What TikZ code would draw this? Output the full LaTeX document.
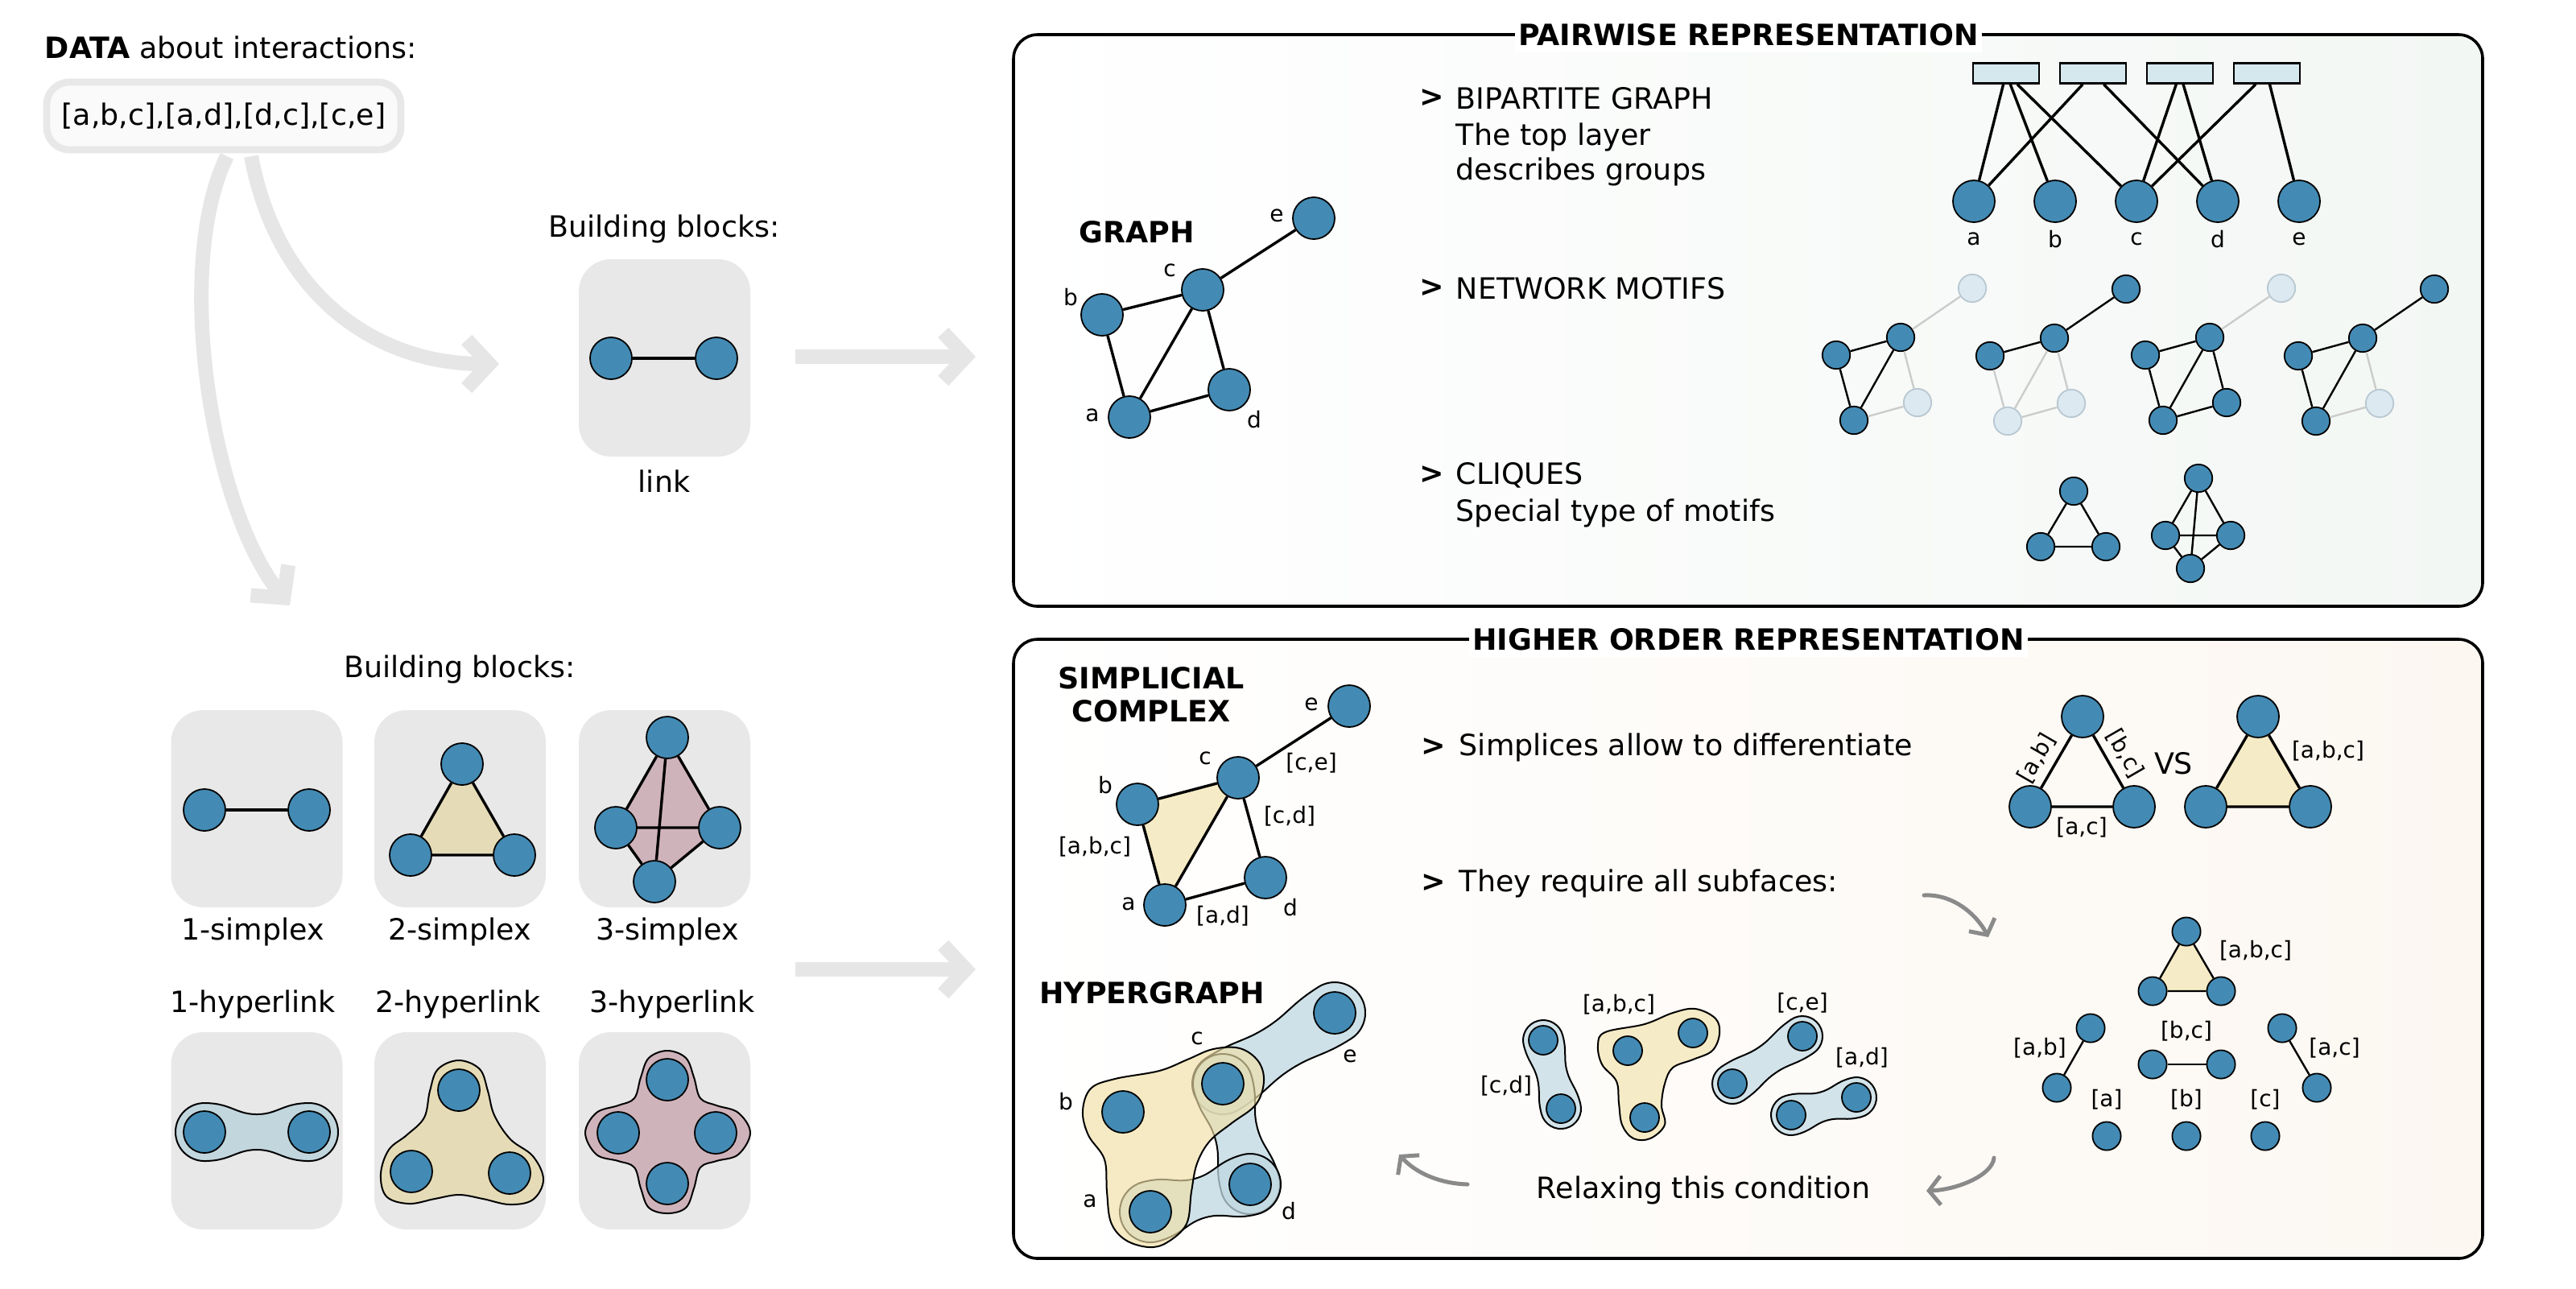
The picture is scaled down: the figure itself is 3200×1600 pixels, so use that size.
\documentclass[tikz,border=0pt]{standalone}
\usepackage{fontspec}
\setmainfont{DejaVu Sans}
\usetikzlibrary{calc,arrows.meta}
\pgfdeclarelayer{back}
\pgfdeclarelayer{mid}
\pgfsetlayers{back,mid,main}
\definecolor{nblue}{RGB}{67,139,180}
\definecolor{lnode}{RGB}{220,233,240}
\definecolor{lborder}{RGB}{185,200,210}
\definecolor{ledge}{RGB}{204,204,204}
\definecolor{gbox}{RGB}{232,232,232}
\definecolor{garrow}{RGB}{230,230,230}
\definecolor{datafill}{RGB}{250,250,250}
\definecolor{beige}{RGB}{245,235,198}
\definecolor{beigeT}{RGB}{240,224,166}
\definecolor{beigebox}{RGB}{229,220,183}
\definecolor{mauve}{RGB}{207,179,187}
\definecolor{bluebox}{RGB}{194,214,222}
\definecolor{bblobT}{RGB}{192,216,226}
\definecolor{bblob}{RGB}{210,227,234}
\definecolor{rectblue}{RGB}{213,232,238}
\definecolor{pwright}{RGB}{243,247,244}
\definecolor{horight}{RGB}{252,247,241}
\definecolor{carrow}{RGB}{138,138,138}
\newcommand{\msz}{\fontsize{9.1}{11}\selectfont}
\newcommand{\lsz}{\fontsize{7}{8.4}\selectfont}
\newcommand{\hlink}[5]{%
\path[#1] let \p1=(#2), \p2=(#3),
  \n1={atan2(\y2-\y1,\x2-\x1)},
  \n2={veclen(\x2-\x1,\y2-\y1)}
 in ($(#2)+({\n1+90}:{#4*0.25pt})$)
 .. controls +({\n1}:{0.25*\n2*1pt}) and +({\n1+180}:{0.2*\n2*1pt}) .. ($(#2)!0.5!(#3)+({\n1+90}:{#5*0.25pt})$)
 .. controls +({\n1}:{0.2*\n2*1pt}) and +({\n1+180}:{0.25*\n2*1pt}) .. ($(#3)+({\n1+90}:{#4*0.25pt})$)
 arc[start angle={\n1+90}, end angle={\n1-90}, radius={#4*0.25pt}]
 .. controls +({\n1+180}:{0.25*\n2*1pt}) and +({\n1}:{0.2*\n2*1pt}) .. ($(#2)!0.5!(#3)+({\n1-90}:{#5*0.25pt})$)
 .. controls +({\n1+180}:{0.2*\n2*1pt}) and +({\n1}:{0.25*\n2*1pt}) .. ($(#2)+({\n1-90}:{#4*0.25pt})$)
 arc[start angle={\n1-90}, end angle={\n1-270}, radius={#4*0.25pt}] -- cycle;}
\begin{document}
\begin{tikzpicture}[x=0.25pt, y=-0.25pt,
 txt/.style={font=\msz, inner sep=0pt},
 btxt/.style={font=\msz\bfseries, inner sep=0pt},
 lab/.style={font=\lsz, inner sep=0pt},
 nd/.style={circle, draw=black, line width=0.45pt, fill=nblue, minimum size=13pt, inner sep=0pt},
 snd/.style={nd, minimum size=8.6pt},
 mnd/.style={nd, minimum size=9pt},
 lnd/.style={snd, fill=lnode, draw=lborder},
 ed/.style={line width=0.85pt},
 ted/.style={line width=0.6pt},
 led/.style={line width=0.6pt, draw=ledge},
 gbx/.style={fill=gbox, rounded corners=10pt, minimum width=53.25pt, minimum height=61.25pt, inner sep=0pt},
 bigarrow/.style={draw=garrow, line width=4.5pt, -{Straight Barb[length=7pt,width=15pt]}},
 carr/.style={draw=carrow, line width=1.25pt, line cap=round, -{Straight Barb[length=3.6pt,width=9pt]}},
 panel/.style={line width=0.9pt, rounded corners=7.5pt},
 ptitle/.style={font=\msz\bfseries, fill=white, inner xsep=1pt, inner ysep=2pt},
 blob/.style={draw=black, line width=0.5pt},
 hbblue/.style={blob, fill=bblobT, fill opacity=0.75},
 hbbeige/.style={blob, fill=beigeT, fill opacity=0.65}
]
\useasboundingbox (0,0) rectangle (3200,1600);

% ================= LEFT COLUMN =================
\node[txt, anchor=west] (datalab) at (55,59) {\textbf{DATA} about interactions:};
\node[draw=gbox, line width=2.2pt, fill=datafill, rounded corners=7pt, minimum width=110pt, minimum height=21pt, font=\msz, inner sep=0pt] (data) at (278,144) {[a,b,c],[a,d],[d,c],[c,e]};

\node[txt] (bbtoplab) at (825,284) {Building blocks:};
\begin{pgfonlayer}{back}
\node[gbx] (linkbox) at (825.5,444.5) {};
\node[gbx] (bx1) at (319,1004.5) {};
\node[gbx] (bx2) at (571.5,1004.5) {};
\node[gbx] (bx3) at (825.5,1004.5) {};
\node[gbx] (bx4) at (319,1404.5) {};
\node[gbx] (bx5) at (571.5,1404.5) {};
\node[gbx] (bx6) at (825.5,1404.5) {};
\coordinate (aAs) at (312,194);
\coordinate (aAe) at (620,452);
\draw[bigarrow] (aAs) .. controls (345,370) and (470,452) .. (aAe);
\coordinate (aBs) at (282,194);
\coordinate (aBe) at (360,752);
\draw[bigarrow] (aBs) .. controls (215,330) and (262,630) .. (aBe);
\coordinate (hAs) at (988,443);
\coordinate (hAe) at (1212,443);
\draw[bigarrow] (hAs) -- (hAe);
\coordinate (hBs) at (988,1204);
\coordinate (hBe) at (1212,1204);
\draw[bigarrow] (hBs) -- (hBe);
\end{pgfonlayer}
\node[nd] (l1) at (759,445) {};
\node[nd] (l2) at (890,445) {};
\draw[ed] (l1) -- (l2);
\node[txt] (linklab) at (825,598) {link};

\node[txt] (bblab) at (571,831) {Building blocks:};
\node[txt] (lab1s) at (314,1157) {1-simplex};
\node[txt] (lab2s) at (571,1157) {2-simplex};
\node[txt] (lab3s) at (829,1157) {3-simplex};
\node[txt] (lab1h) at (314,1247) {1-hyperlink};
\node[txt] (lab2h) at (569,1247) {2-hyperlink};
\node[txt] (lab3h) at (835,1247) {3-hyperlink};

% 1-simplex
\node[nd] (s1a) at (254,1006) {};
\node[nd] (s1b) at (384,1006) {};
\draw[ed] (s1a) -- (s1b);
% 2-simplex
\node[nd] (s2t) at (574,949) {};
\node[nd] (s2l) at (510,1062) {};
\node[nd] (s2r) at (639,1062) {};
\begin{pgfonlayer}{mid}
\fill[beigebox] (s2t.center) -- (s2l.center) -- (s2r.center) -- cycle;
\end{pgfonlayer}
\draw[ed] (s2t) -- (s2l) (s2t) -- (s2r) (s2l) -- (s2r);
% 3-simplex
\node[nd] (s3t) at (829,916) {};
\node[nd] (s3l) at (765,1028) {};
\node[nd] (s3r) at (894,1028) {};
\node[nd] (s3b) at (813,1095) {};
\begin{pgfonlayer}{mid}
\fill[mauve] (s3t.center) -- (s3r.center) -- (s3b.center) -- (s3l.center) -- cycle;
\end{pgfonlayer}
\draw[ed] (s3t) -- (s3l) (s3t) -- (s3r) (s3l) -- (s3b) (s3r) -- (s3b) (s3l) -- (s3r) (s3t) -- (s3b);
% 1-hyperlink
\node[nd] (h1a) at (254,1406) {};
\node[nd] (h1b) at (384,1406) {};
\begin{pgfonlayer}{mid}
\hlink{blob, fill=bluebox}{h1a}{h1b}{36}{22}
\end{pgfonlayer}
% 2-hyperlink
\node[nd] (h2t) at (570,1354) {};
\node[nd] (h2l) at (511,1455) {};
\node[nd] (h2r) at (633,1457) {};
\begin{pgfonlayer}{mid}
\draw[blob, fill=beigebox] plot[smooth cycle, tension=0.6] coordinates {(570,1317) (596,1328) (606,1355) (614,1385) (634,1415) (662,1436) (675,1465) (662,1490) (633,1496) (600,1489) (570,1484) (540,1489) (508,1495) (480,1486) (473,1458) (483,1428) (505,1410) (527,1388) (534,1355) (544,1328)};
\end{pgfonlayer}
% 3-hyperlink
\node[nd] (h3t) at (829,1341) {};
\node[nd] (h3l) at (768,1407) {};
\node[nd] (h3r) at (889,1407) {};
\node[nd] (h3b) at (829,1470) {};
\begin{pgfonlayer}{mid}
\draw[blob, fill=mauve] plot[smooth cycle, tension=0.6] coordinates {(829,1305) (852,1314) (862,1338) (870,1364) (890,1373) (917,1382) (932,1407) (917,1434) (890,1442) (870,1450) (862,1476) (852,1500) (829,1507) (806,1500) (796,1476) (788,1450) (768,1442) (741,1434) (727,1407) (741,1382) (768,1373) (788,1364) (796,1338) (806,1314)};
\end{pgfonlayer}

% ================= PANELS =================
\begin{pgfonlayer}{back}
\draw[panel, left color=white, right color=pwright] (1259,43) rectangle (3084,753);
\draw[panel, left color=white, right color=horight] (1259,794) rectangle (3084,1563);
\end{pgfonlayer}
\node[ptitle] (pwtitle) at (2172,43) {PAIRWISE REPRESENTATION};
\node[ptitle] (hotitle) at (2172,794) {HIGHER ORDER REPRESENTATION};

% graph
\node[btxt] (graphlab) at (1412,288) {GRAPH};
\node[nd] (ge) at (1632,271) {};
\node[nd] (gc) at (1494,360) {};
\node[nd] (gb) at (1369,391) {};
\node[nd] (gd) at (1527,484) {};
\node[nd] (ga) at (1403,518) {};
\draw[ed] (gb) -- (gc) (gc) -- (ge) (ga) -- (gb) (ga) -- (gc) (gc) -- (gd) (ga) -- (gd);
\node[lab] (gel) at (1586,268) {e};
\node[lab] (gcl) at (1453,336) {c};
\node[lab] (gbl) at (1330,369) {b};
\node[lab] (gal) at (1357,516) {a};
\node[lab] (gdl) at (1558,521) {d};

% texts
\node[btxt] (gt1) at (1779,122) {>};
\node[txt, anchor=west] (t1) at (1808,122) {BIPARTITE GRAPH};
\node[txt, anchor=west] (t2) at (1808,170) {The top layer};
\node[txt, anchor=west] (t3) at (1808,213) {describes groups};
\node[btxt] (gt2) at (1779,358) {>};
\node[txt, anchor=west] (t4) at (1808,358) {NETWORK MOTIFS};
\node[btxt] (gt3) at (1779,590) {>};
\node[txt, anchor=west] (t5) at (1808,590) {CLIQUES};
\node[txt, anchor=west] (t6) at (1808,637) {Special type of motifs};

% bipartite
\foreach \i/\x in {1/2492,2/2600,3/2708,4/2816}
  \node[draw=black, line width=0.6pt, fill=rectblue, minimum width=20.5pt, minimum height=6.25pt, inner sep=0pt] (g\i) at (\x,91) {};
\foreach \n/\x in {a/2452,b/2553,c/2654,d/2755,e/2856}{
  \node[nd] (b\n) at (\x,250) {};
  \node[lab] (bl\n) at (\x,297) {\n};
}
\draw[ed] (g1) -- (ba) (g1) -- (bb) (g1) -- (bc) (g2) -- (ba) (g2) -- (bd) (g3) -- (bc) (g3) -- (bd) (g4) -- (bc) (g4) -- (be);

% motifs
\node[lnd] (m1e) at (2450,358) {};
\node[snd] (m1c) at (2361,419) {};
\node[snd] (m1b) at (2281,441) {};
\node[lnd] (m1d) at (2382,500) {};
\node[snd] (m1a) at (2303,522) {};
\draw[led] (m1c) -- (m1e) (m1c) -- (m1d) (m1a) -- (m1d);
\draw[ted] (m1b) -- (m1c) (m1c) -- (m1a) (m1a) -- (m1b);

\node[snd] (m2e) at (2641,359) {};
\node[snd] (m2c) at (2552,420) {};
\node[snd] (m2b) at (2472,442) {};
\node[lnd] (m2d) at (2573,501) {};
\node[lnd] (m2a) at (2494,523) {};
\draw[led] (m2a) -- (m2b) (m2a) -- (m2c) (m2c) -- (m2d) (m2a) -- (m2d);
\draw[ted] (m2c) -- (m2e) (m2b) -- (m2c);

\node[lnd] (m3e) at (2834,358) {};
\node[snd] (m3c) at (2745,419) {};
\node[snd] (m3b) at (2665,441) {};
\node[snd] (m3d) at (2766,500) {};
\node[snd] (m3a) at (2687,522) {};
\draw[led] (m3c) -- (m3e);
\draw[ted] (m3b) -- (m3c) (m3a) -- (m3b) (m3a) -- (m3c) (m3c) -- (m3d) (m3a) -- (m3d);

\node[snd] (m4e) at (3024,359) {};
\node[snd] (m4c) at (2935,420) {};
\node[snd] (m4b) at (2855,442) {};
\node[lnd] (m4d) at (2956,501) {};
\node[snd] (m4a) at (2877,523) {};
\draw[led] (m4c) -- (m4d) (m4a) -- (m4d);
\draw[ted] (m4c) -- (m4e) (m4b) -- (m4c) (m4a) -- (m4b) (m4a) -- (m4c);

% cliques
\node[snd] (k1t) at (2576,610) {};
\node[snd] (k1l) at (2535,679) {};
\node[snd] (k1r) at (2616,679) {};
\draw[ted] (k1t) -- (k1l) (k1t) -- (k1r) (k1l) -- (k1r);
\node[snd] (k2t) at (2731,594) {};
\node[snd] (k2l) at (2690,665) {};
\node[snd] (k2r) at (2771,665) {};
\node[snd] (k2b) at (2721,706) {};
\draw[ted] (k2t) -- (k2l) (k2t) -- (k2r) (k2l) -- (k2r) (k2l) -- (k2b) (k2r) -- (k2b) (k2t) -- (k2b);

% ================= HIGHER ORDER PANEL =================
\node[btxt] (simlab1) at (1430,842) {SIMPLICIAL};
\node[btxt] (simlab2) at (1430,883) {COMPLEX};
\node[nd] (se) at (1676,877) {};
\node[nd] (sc) at (1538,966) {};
\node[nd] (sb) at (1413,999) {};
\node[nd] (sd) at (1572,1090) {};
\node[nd] (sa) at (1447,1124) {};
\begin{pgfonlayer}{mid}
\fill[beige] (sa.center) -- (sb.center) -- (sc.center) -- cycle;
\end{pgfonlayer}
\draw[ed] (sb) -- (sc) (sa) -- (sb) (sa) -- (sc) (sc) -- (sd) (sa) -- (sd) (sc) -- (se);
\node[lab] (sel) at (1629,875) {e};
\node[lab] (scl) at (1497,942) {c};
\node[lab] (sbl) at (1373,975) {b};
\node[lab] (sal) at (1402,1123) {a};
\node[lab] (sdl) at (1603,1127) {d};
\node[lab] (scel) at (1629,948) {[c,e]};
\node[lab] (scdl) at (1602,1014) {[c,d]};
\node[lab] (sabcl) at (1360,1052) {[a,b,c]};
\node[lab] (sadl) at (1519,1138) {[a,d]};

\node[btxt] (gt4) at (1781,928) {>};
\node[txt, anchor=west] (t7) at (1812,928) {Simplices allow to differentiate};
\node[btxt] (gt5) at (1781,1097) {>};
\node[txt, anchor=west] (t8) at (1812,1097) {They require all subfaces:};

% VS
\node[nd] (v1t) at (2587,890) {};
\node[nd] (v1l) at (2522,1002) {};
\node[nd] (v1r) at (2651,1002) {};
\draw[ed] (v1t) -- (v1l) (v1t) -- (v1r) (v1l) -- (v1r);
\node[lab, rotate=60] (v1ab) at (2530,942) {[a,b]};
\node[lab, rotate=-60] (v1bc) at (2640,936) {[b,c]};
\node[lab] (v1ac) at (2586,1028) {[a,c]};
\node[txt] (vs) at (2700,948) {VS};
\node[nd] (v2t) at (2805,890) {};
\node[nd] (v2l) at (2740,1002) {};
\node[nd] (v2r) at (2870,1002) {};
\begin{pgfonlayer}{mid}
\fill[beige] (v2t.center) -- (v2l.center) -- (v2r.center) -- cycle;
\end{pgfonlayer}
\draw[ed] (v2t) -- (v2l) (v2t) -- (v2r) (v2l) -- (v2r);
\node[lab] (v2abc) at (2892,933) {[a,b,c]};

% subfaces
\tikzset{fnd/.style={nd, minimum size=8.8pt}}
\node[fnd] (f3t) at (2716,1157) {};
\node[fnd] (f3l) at (2674,1231) {};
\node[fnd] (f3r) at (2759,1231) {};
\begin{pgfonlayer}{mid}
\fill[beige] (f3t.center) -- (f3l.center) -- (f3r.center) -- cycle;
\end{pgfonlayer}
\draw[ted] (f3t) -- (f3l) (f3t) -- (f3r) (f3l) -- (f3r);
\node[lab] (f3lab) at (2802,1181) {[a,b,c]};
\node[fnd] (fab1) at (2597,1277) {};
\node[fnd] (fab2) at (2555,1351) {};
\draw[ted] (fab1) -- (fab2);
\node[lab] (fablab) at (2534,1302) {[a,b]};
\node[fnd] (fbc1) at (2674,1322) {};
\node[fnd] (fbc2) at (2759,1322) {};
\draw[ted] (fbc1) -- (fbc2);
\node[lab] (fbclab) at (2716,1281) {[b,c]};
\node[fnd] (fac1) at (2835,1277) {};
\node[fnd] (fac2) at (2878,1351) {};
\draw[ted] (fac1) -- (fac2);
\node[lab] (faclab) at (2900,1302) {[a,c]};
\node[fnd] (fa) at (2617,1411) {};
\node[fnd] (fb) at (2716,1411) {};
\node[fnd] (fc) at (2814,1411) {};
\node[lab] (falab) at (2617,1366) {[a]};
\node[lab] (fblab) at (2716,1366) {[b]};
\node[lab] (fclab) at (2814,1366) {[c]};

% curved arrows
\coordinate (c1s) at (2390,1112);
\coordinate (c1e) at (2470,1164);
\draw[carr] (c1s) .. controls (2425,1110) and (2455,1135) .. (c1e);
\coordinate (c2s) at (2477,1438);
\coordinate (c2e) at (2393,1479);
\draw[carr] (c2s) .. controls (2475,1460) and (2430,1478) .. (c2e);
\coordinate (c3s) at (1823,1471);
\coordinate (c3e) at (1738,1434);
\draw[carr] (c3s) .. controls (1790,1470) and (1760,1458) .. (c3e);
\node[txt] (relax) at (2116,1478) {Relaxing this condition};

% right-side hyperedges
\node[mnd] (rcd1) at (1917,1292) {};
\node[mnd] (rcd2) at (1939,1377) {};
\node[lab] (rcdl) at (1871,1349) {[c,d]};
\node[mnd] (rabca) at (2022,1305) {};
\node[mnd] (rabcb) at (2103,1283) {};
\node[mnd] (rabcc) at (2043,1388) {};
\node[lab] (rabcl) at (2011,1248) {[a,b,c]};
\node[mnd] (rce1) at (2152,1346) {};
\node[mnd] (rce2) at (2239,1287) {};
\node[lab] (rcel) at (2239,1246) {[c,e]};
\node[mnd] (rad1) at (2225,1385) {};
\node[mnd] (rad2) at (2306,1363) {};
\node[lab] (radl) at (2313,1314) {[a,d]};
\begin{pgfonlayer}{mid}
\hlink{blob, fill=bblob}{rcd1}{rcd2}{25}{19}
\hlink{blob, fill=bblob}{rce1}{rce2}{25}{19}
\hlink{blob, fill=bblob}{rad1}{rad2}{25}{18}
\draw[blob, fill=beige] plot[smooth cycle, tension=0.6] coordinates {(1994,1282) (2043,1272) (2078,1258) (2106,1253) (2131,1265) (2136,1284) (2127,1305) (2103,1316) (2078,1326) (2068,1346) (2064,1373) (2068,1397) (2050,1414) (2029,1414) (2015,1397) (2011,1370) (2008,1343) (1990,1322) (1985,1298)};
\end{pgfonlayer}

% hypergraph
\node[btxt] (hglab) at (1431,1233) {HYPERGRAPH};
\node[nd] (hc) at (1519,1346) {};
\node[nd] (hb) at (1395,1381) {};
\node[nd] (ha) at (1429,1505) {};
\node[nd] (hd) at (1553,1471) {};
\node[nd] (he) at (1658,1258) {};
\begin{pgfonlayer}{mid}
\hlink{hbblue}{hc}{he}{38}{30}
\hlink{hbblue}{hc}{hd}{37}{27}
\hlink{hbblue}{ha}{hd}{38}{25}
\draw[hbbeige] plot[smooth cycle, tension=0.6] coordinates {(1507,1303) (1540,1302) (1563,1318) (1570,1343) (1560,1372) (1530,1395) (1503,1417) (1487,1445) (1480,1480) (1474,1520) (1450,1543) (1427,1549) (1398,1540) (1380,1518) (1375,1480) (1372,1440) (1352,1410) (1345,1380) (1355,1352) (1385,1340) (1440,1330) (1475,1316)};
\end{pgfonlayer}
\node[lab] (hcl) at (1487,1290) {c};
\node[lab] (hel) at (1677,1312) {e};
\node[lab] (hbl) at (1324,1368) {b};
\node[lab] (hal) at (1354,1492) {a};
\node[lab] (hdl) at (1601,1504) {d};
\end{tikzpicture}
\end{document}
